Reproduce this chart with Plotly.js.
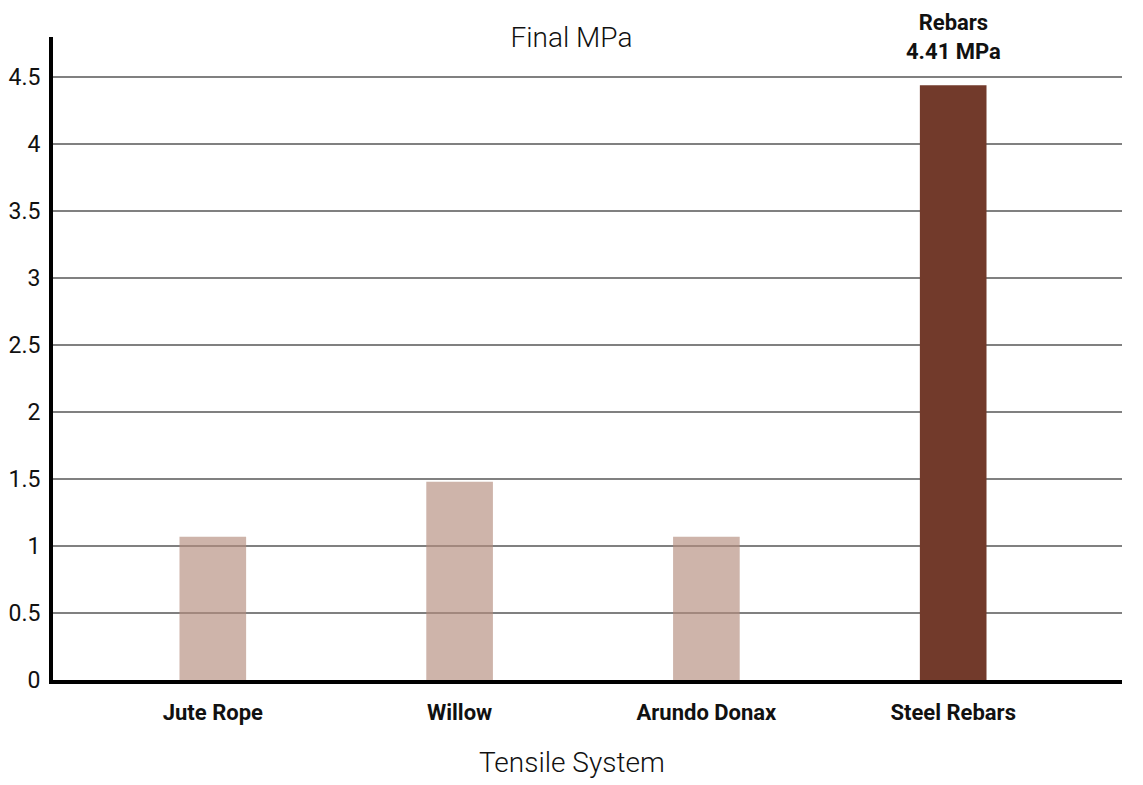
<!DOCTYPE html>
<html>
<head>
<meta charset="utf-8">
<script src="https://cdn.plot.ly/plotly-3.0.1.min.js"></script>
<style>
  html, body { margin: 0; padding: 0; background: #fff; }
  #chart { width: 1143px; height: 785px; }
</style>
</head>
<body>
<div id="chart"></div>
<script>
// data
const categories = ["Jute Rope", "Willow", "Arundo Donax", "Steel Rebars"];
const finalMPa = [1.07, 1.48, 1.07, 4.44];
const highlight = "Steel Rebars";
const highlightLabel = "Rebars<br>4.41 MPa";

const LIGHT = "#b48c7c";
const DARK = "#723a2b";
const NARROW = "Roboto, sans-serif";

const trace = {
  x: categories.map((c, i) => i),
  y: finalMPa,
  type: "bar",
  width: 0.27,
  marker: {
    color: categories.map(c => c === highlight ? DARK : LIGHT),
    opacity: categories.map(c => c === highlight ? 1 : 0.65),
    line: { width: 0 }
  },
  hoverinfo: "skip"
};

const layout = {
  width: 1143,
  height: 785,
  margin: { l: 53, r: 21, t: 37, b: 105 },
  paper_bgcolor: "#fff",
  plot_bgcolor: "#fff",
  showlegend: false,
  font: { family: "Roboto, sans-serif", color: "#111" },
  title: {
    text: "Final MPa",
    xref: "container", x: 0.5, xanchor: "center",
    yref: "container", y: 1 - 37 / 785, yanchor: "middle",
    font: { family: "Roboto, sans-serif", size: 28, weight: 300, color: "#111" }
  },
  xaxis: {
    range: [-0.6475, 3.684],
    tickmode: "array",
    tickvals: categories.map((c, i) => i),
    ticktext: categories,
    tickfont: { family: NARROW, size: 22, weight: "bold", color: "#111" },
    ticks: "",
    ticklabelstandoff: 10,
    showgrid: false,
    zeroline: false,
    showline: true,
    linecolor: "#000",
    linewidth: 4
  },
  yaxis: {
    range: [0, 4.8],
    dtick: 0.5,
    tick0: 0,
    tickfont: { family: NARROW, size: 23, color: "#111" },
    ticks: "",
    ticklabelstandoff: 4,
    showgrid: true,
    gridcolor: "#808080",
    gridwidth: 2,
    zeroline: false,
    showline: true,
    linecolor: "#000",
    linewidth: 4
  },
  annotations: [
    {
      text: "Tensile System",
      xref: "paper", x: (571.5 - 53) / 1069, xanchor: "center",
      yref: "paper", y: (680 - 762) / 643, yanchor: "middle",
      showarrow: false,
      font: { family: "Roboto, sans-serif", size: 28, weight: 300, color: "#111" }
    },
    {
      text: highlightLabel,
      xref: "x", x: categories.indexOf(highlight), xanchor: "center",
      yref: "paper", y: 1.0, yanchor: "middle",
      showarrow: false,
      align: "center",
      font: { family: NARROW, size: 22, weight: "bold", color: "#111" }
    }
  ]
};

Plotly.newPlot("chart", [trace], layout, { displayModeBar: false, staticPlot: true });
</script>
</body>
</html>
